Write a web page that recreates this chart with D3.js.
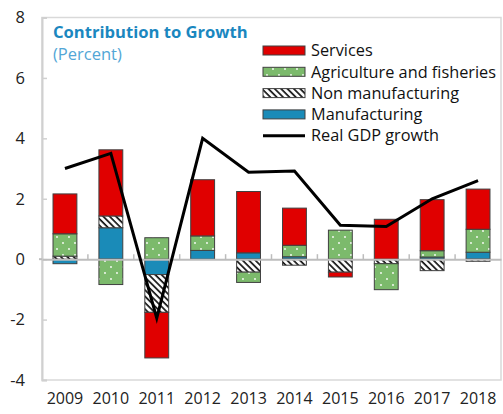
<!DOCTYPE html>
<html><head><meta charset="utf-8">
<script src="https://cdn.jsdelivr.net/npm/d3@7"></script>
<style>
html,body{margin:0;padding:0;background:#fff;}
svg{display:block;font-family:"Open Sans","Noto Sans",sans-serif;}
</style></head>
<body>
<svg id="chart" width="503" height="414"></svg>
<script>
const years = ["2009","2010","2011","2012","2013","2014","2015","2016","2017","2018"];
const manufacturing    = [-0.15, 1.04, -0.51, 0.29, 0.21, 0.08, 0.00, 0.00, 0.07, 0.23];
const nonManufacturing = [ 0.10, 0.39, -1.25, 0.00, -0.43, -0.20, -0.43, -0.15, -0.38, -0.07];
const agriculture      = [ 0.74, -0.84, 0.71, 0.48, -0.34, 0.38, 0.96, -0.86, 0.21, 0.76];
const services         = [ 1.32, 2.19, -1.51, 1.86, 2.03, 1.23, -0.16, 1.32, 1.69, 1.33];
const gdpGrowth        = [ 3.00, 3.50, -1.95, 4.00, 2.88, 2.92, 1.12, 1.08, 2.00, 2.60];
const yTicks = [-4,-2,0,2,4,6,8];
const seriesNames = ["Manufacturing","Non manufacturing","Agriculture and fisheries","Services"];
const legendOrder = ["Services","Agriculture and fisheries","Non manufacturing","Manufacturing","Real GDP growth"];

(function(){
const table = years.map((y,i)=>({year:y,
  "Manufacturing":manufacturing[i],
  "Non manufacturing":nonManufacturing[i],
  "Agriculture and fisheries":agriculture[i],
  "Services":services[i]}));

const svg = d3.select("#chart");
const defs = svg.append("defs");
const pg = defs.append("pattern").attr("id","dots").attr("patternUnits","userSpaceOnUse")
  .attr("width",12).attr("height",12);
pg.append("rect").attr("width",12).attr("height",12).attr("fill","#7cba6c");
pg.append("circle").attr("cx",3).attr("cy",3).attr("r",0.9).attr("fill","#fff");
pg.append("circle").attr("cx",9).attr("cy",9).attr("r",0.9).attr("fill","#fff");
const ph = defs.append("pattern").attr("id","hatch").attr("patternUnits","userSpaceOnUse")
  .attr("width",4.5).attr("height",4.5).attr("patternTransform","rotate(-45)");
ph.append("rect").attr("width",4.5).attr("height",4.5).attr("fill","#fff");
ph.append("line").attr("x1",1).attr("x2",1).attr("y1",0).attr("y2",4.5)
  .attr("stroke","#111").attr("stroke-width",1.7);

const fills = {"Services":"#e00000","Agriculture and fisheries":"url(#dots)",
  "Non manufacturing":"url(#hatch)","Manufacturing":"#1a8bb8"};

const pL=42, pR=501, pT=17.5, pB=380;
const x = d3.scaleBand().domain(years).range([pL,pR]).paddingInner(0.48).paddingOuter(0.24);
const y = d3.scaleLinear().domain([-4,8]).range([pB,pT]);

svg.append("rect").attr("x",pL).attr("y",pT).attr("width",pR-pL).attr("height",pB-pT)
  .attr("fill","#fff").attr("stroke","#d9d9d9").attr("stroke-width",1.5);

const yAxis = svg.append("g").attr("transform",`translate(${pL},0)`)
  .call(d3.axisRight(y).tickValues(yTicks).tickSize(5).tickFormat(""));
yAxis.select(".domain").attr("stroke","#d0d0d0").attr("stroke-width",2);
yAxis.selectAll(".tick line").attr("stroke","#d0d0d0").attr("stroke-width",1.5);
svg.append("g").selectAll("text").data(yTicks).join("text")
  .attr("x",25).attr("y",d=>y(d)).attr("dy","0.35em").attr("text-anchor","end")
  .attr("font-size",16.5).attr("fill","#222").text(d=>d);

const stack = d3.stack().keys(seriesNames).offset(d3.stackOffsetDiverging);
const stacked = stack(table);
svg.append("g").selectAll("g").data(stacked).join("g")
  .attr("fill",s=>fills[s.key])
  .selectAll("rect").data(s=>s.filter(d=>d[1]!==d[0])).join("rect")
  .attr("x",d=>x(d.data.year)).attr("width",x.bandwidth())
  .attr("y",d=>y(Math.max(d[0],d[1]))).attr("height",d=>Math.abs(y(d[0])-y(d[1])))
  .attr("stroke","#404040").attr("stroke-width",1);

const xAxis = svg.append("g").attr("transform",`translate(0,${y(0)})`)
  .call(d3.axisTop(x).tickSize(0).tickFormat(""));
xAxis.select(".domain").attr("stroke","#bdbdbd").attr("stroke-width",2);
svg.append("line").attr("x1",pL-3).attr("x2",pL).attr("y1",y(0)).attr("y2",y(0))
  .attr("stroke","#bdbdbd").attr("stroke-width",2);
const bounds = years.slice(1).map(d=>x(d)-x.step()*x.paddingInner()/2);
svg.append("g").selectAll("line").data(bounds).join("line")
  .attr("x1",d=>d).attr("x2",d=>d).attr("y1",y(0)).attr("y2",y(0)-5)
  .attr("stroke","#bdbdbd").attr("stroke-width",1.5);

svg.append("g").selectAll("text").data(years).join("text")
  .attr("x",d=>x(d)+x.bandwidth()/2).attr("y",403.5).attr("text-anchor","middle")
  .attr("font-size",16).attr("fill","#222").text(d=>d);

const line = d3.line().x((d,i)=>x(years[i])+x.bandwidth()/2).y(d=>y(d));
svg.append("path").datum(gdpGrowth).attr("d",line).attr("fill","none")
  .attr("stroke","#000").attr("stroke-width",3).attr("stroke-linejoin","miter");

svg.append("text").attr("x",53).attr("y",38).attr("font-size",16.6).attr("font-weight","bold")
  .attr("fill","#1b87bf").text("Contribution to Growth");
svg.append("text").attr("x",53).attr("y",60).attr("font-size",16.5)
  .attr("fill","#52a6d6").text("(Percent)");

const lg = svg.append("g");
legendOrder.forEach((name,i)=>{
  const cy = 50.5 + i*21.3;
  if(name==="Real GDP growth"){
    lg.append("line").attr("x1",263).attr("x2",305).attr("y1",cy).attr("y2",cy)
      .attr("stroke","#000").attr("stroke-width",3);
  } else {
    lg.append("rect").attr("x",263).attr("y",cy-4.5).attr("width",42).attr("height",9)
      .attr("fill",fills[name]).attr("stroke","#404040").attr("stroke-width",1);
  }
  lg.append("text").attr("x",311).attr("y",cy).attr("dy","0.35em").attr("font-size",16.3)
    .attr("fill","#111").text(name);
});
})();
</script>
</body></html>
